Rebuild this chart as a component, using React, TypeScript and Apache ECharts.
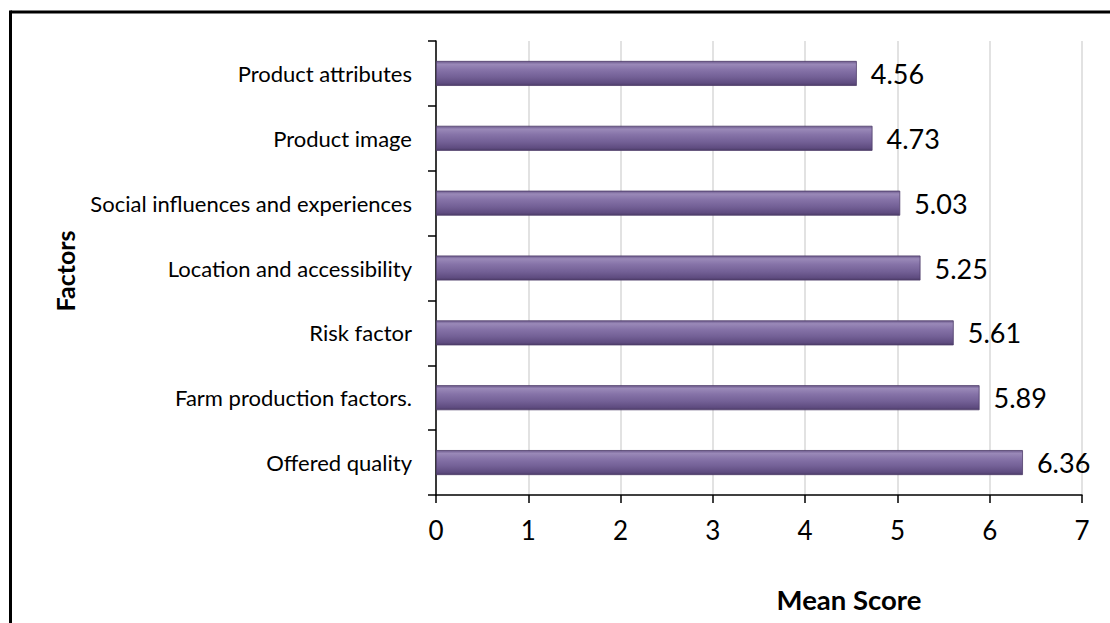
import React, { useEffect, useRef } from "react";
import * as echarts from "echarts";

const categories = [
  "Product attributes",
  "Product image",
  "Social influences and experiences",
  "Location and accessibility",
  "Risk factor",
  "Farm production factors.",
  "Offered quality",
];
const meanScores = [4.56, 4.73, 5.03, 5.25, 5.61, 5.89, 6.36];
const xTicks = [0, 1, 2, 3, 4, 5, 6, 7];

const FONT = "Lato, 'Noto Sans', sans-serif";

export default function App() {
  const ref = useRef<HTMLDivElement>(null);
  useEffect(() => {
    if (!ref.current) return;
    const chart = echarts.init(ref.current, undefined, { renderer: "svg" });
    const barGradient = new echarts.graphic.LinearGradient(0, 0, 0, 1, [
      { offset: 0, color: "#6c5a8c" },
      { offset: 0.12, color: "#9a89b8" },
      { offset: 0.35, color: "#8673a8" },
      { offset: 0.65, color: "#736096" },
      { offset: 0.9, color: "#5f4c80" },
      { offset: 1, color: "#4c3c68" },
    ]);
    chart.setOption({
      animation: false,
      backgroundColor: "#ffffff",
      grid: { left: 436, right: 28, top: 41, bottom: 128, containLabel: false },
      xAxis: {
        type: "value",
        min: xTicks[0],
        max: xTicks[xTicks.length - 1],
        interval: 1,
        axisLine: { show: true, lineStyle: { color: "#000", width: 1.5 } },
        axisTick: { show: true, length: 8, lineStyle: { color: "#000", width: 1.5 } },
        axisLabel: { fontSize: 26, color: "#000", fontFamily: FONT, margin: 22 },
        splitLine: { show: true, lineStyle: { color: "#d9d9d9", width: 1.5 } },
      },
      yAxis: {
        type: "category",
        data: categories,
        inverse: true,
        axisLine: { show: true, lineStyle: { color: "#000", width: 1.5 } },
        axisTick: { show: true, length: 8, lineStyle: { color: "#000", width: 1.5 } },
        axisLabel: { fontSize: 22, color: "#000", fontFamily: FONT, margin: 24 },
        splitLine: { show: false },
      },
      series: [
        {
          type: "bar",
          data: meanScores,
          barWidth: 25,
          itemStyle: { color: barGradient, borderColor: "#4f3d6b", borderWidth: 0.8 },
          label: {
            show: true,
            position: "right",
            distance: 14,
            fontSize: 27,
            color: "#000",
            fontFamily: FONT,
            formatter: (p: any) => p.value.toFixed(2),
          },
        },
      ],
      graphic: [
        {
          type: "line",
          shape: { x1: 10.5, y1: 12, x2: 1110, y2: 12 },
          style: { stroke: "#000", lineWidth: 3 },
          silent: true,
        },
        {
          type: "line",
          shape: { x1: 10.5, y1: 10.5, x2: 10.5, y2: 623 },
          style: { stroke: "#000", lineWidth: 3 },
          silent: true,
        },
        {
          type: "text",
          x: 65,
          y: 271,
          rotation: Math.PI / 2,
          style: {
            text: "Factors",
            fontSize: 25,
            fontWeight: "bold",
            fontFamily: FONT,
            fill: "#000",
            align: "center",
            verticalAlign: "middle",
          },
        },
        {
          type: "text",
          x: 849,
          y: 599,
          style: {
            text: "Mean Score",
            fontSize: 27.5,
            fontWeight: "bold",
            fontFamily: FONT,
            fill: "#000",
            align: "center",
            verticalAlign: "middle",
          },
        },
      ],
    });
    return () => chart.dispose();
  }, []);
  return (
    <div
      ref={ref}
      style={{ position: "absolute", left: 0, top: 0, width: 1110, height: 623 }}
    />
  );
}
